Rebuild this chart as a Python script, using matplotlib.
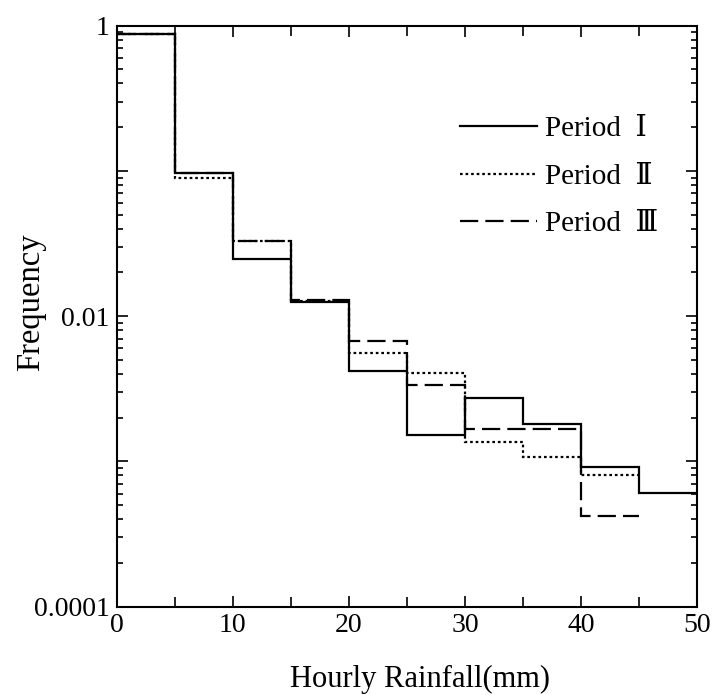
import numpy as np
import matplotlib
matplotlib.use("Agg")
import matplotlib.pyplot as plt
from matplotlib.ticker import FixedLocator, FuncFormatter, LogLocator, NullFormatter, MultipleLocator

plt.rcParams["font.family"] = ["Liberation Serif", "DejaVu Serif"]

# bin edges of hourly rainfall (mm)
edges_1 = [0, 5, 10, 15, 20, 25, 30, 35, 40, 45, 50]
edges_23 = [0, 5, 10, 15, 20, 25, 30, 35, 40, 45]

# frequency per bin
period_1 = [0.87, 0.0964, 0.0247, 0.0126, 0.00422, 0.00152, 0.00271, 0.00181, 0.000914, 0.000605]
period_2 = [0.87, 0.089, 0.033, 0.0127, 0.00559, 0.00403, 0.00135, 0.00107, 0.000809]
period_3 = [0.88, 0.097, 0.033, 0.0129, 0.00669, 0.00335, 0.00167, 0.00167, 0.000418]

labels = ["Period  \u2160", "Period  \u2161", "Period  \u2162"]

W, H = 714, 695
fig = plt.figure(figsize=(W / 100, H / 100), dpi=100)
ax = fig.add_axes([116.7 / W, 1 - 606.5 / H, 580.3 / W, 580.8 / H])

lw = 1.6
ax.stairs(period_1, edges_1, baseline=None, color="black", lw=lw, label=labels[0])
ax.stairs(period_2, edges_23, baseline=None, color="black", lw=lw,
          linestyle=(0, (1.2, 1.3)), label=labels[1])
ax.stairs(period_3, edges_23, baseline=None, color="black", lw=lw,
          linestyle=(0, (8.2, 3.2)), label=labels[2])

ax.set_yscale("log")
ax.set_xlim(0, 50)
ax.set_ylim(1e-4, 1)

ax.xaxis.set_major_locator(MultipleLocator(10))
ax.xaxis.set_minor_locator(MultipleLocator(5))
ax.yaxis.set_major_locator(FixedLocator([1e-4, 1e-3, 1e-2, 1e-1, 1]))
ax.yaxis.set_minor_locator(LogLocator(base=10, subs=np.arange(2, 10)))
ax.yaxis.set_minor_formatter(NullFormatter())
ytxt = {1e-4: "0.0001", 1e-2: "0.01", 1: "1"}
ax.yaxis.set_major_formatter(FuncFormatter(
    lambda v, p: next((t for k, t in ytxt.items() if abs(np.log10(v) - np.log10(k)) < 1e-6), "")))

ax.tick_params(which="both", direction="in", top=True, right=True, labelsize=20, width=1.2)
ax.tick_params(which="major", length=8)
ax.tick_params(which="minor", length=4)
ax.tick_params(axis="x", which="minor", length=7)
ax.tick_params(axis="x", pad=5)
ax.tick_params(axis="y", pad=5)
for s in ax.spines.values():
    s.set_linewidth(1.5)

ax.set_xlabel("Hourly Rainfall(mm)", fontsize=22, va="baseline")
ax.xaxis.set_label_coords((420.5 - 116.7) / 580.3, (606.5 - 687) / 580.8)
ax.set_ylabel("Frequency", fontsize=23.5, va="center")
ax.yaxis.set_label_coords((31 - 116.7) / 580.3, (606.5 - 302.5) / 580.8)

ax.legend(loc="upper left", bbox_to_anchor=(460 / W, 1 - 116 / H),
          bbox_transform=fig.transFigure, frameon=False, fontsize=21,
          handlelength=2.65, handletextpad=0.28, labelspacing=0.72,
          borderpad=0, borderaxespad=0)

fig.savefig("out.png", dpi=100)
